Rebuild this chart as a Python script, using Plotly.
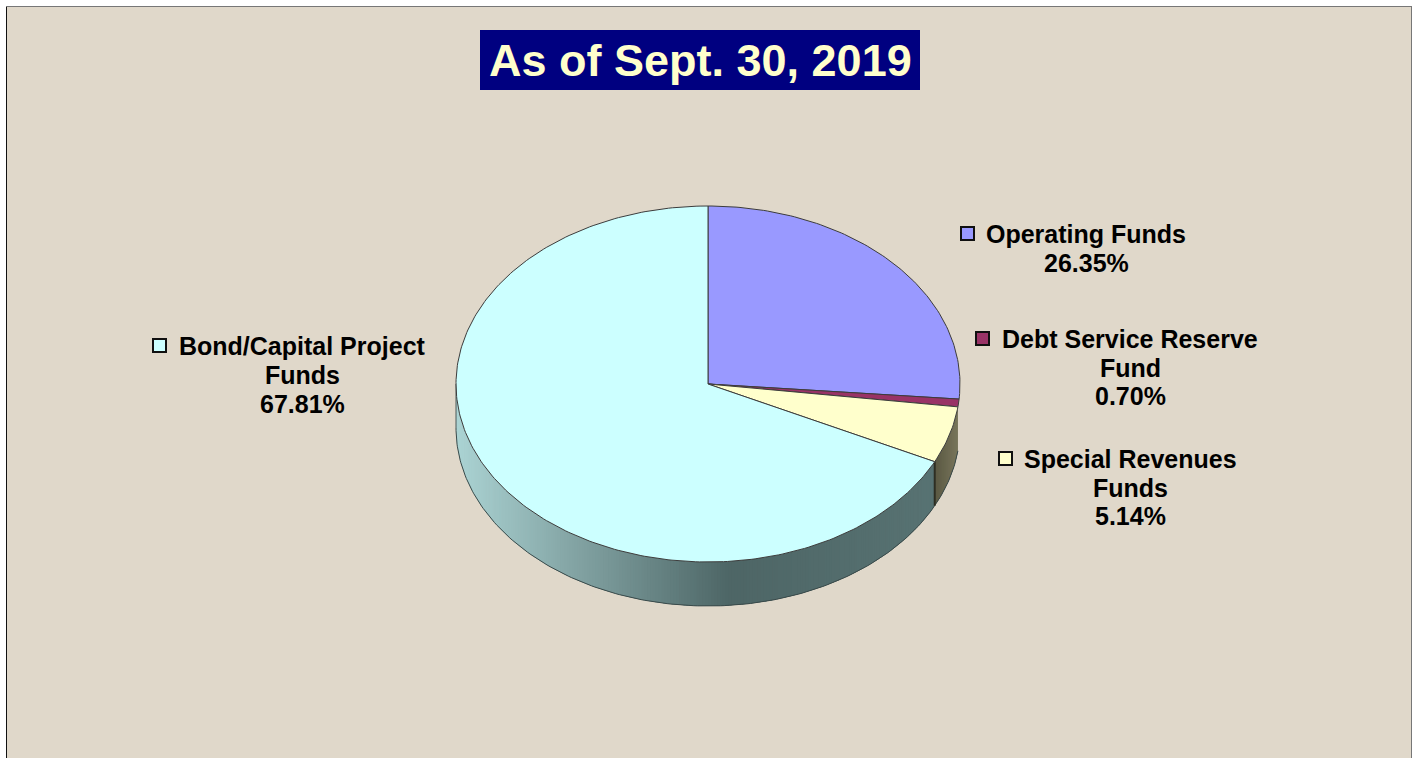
import numpy as np
import plotly.graph_objects as go

categories = ["Operating Funds", "Debt Service Reserve Fund", "Special Revenues Funds", "Bond/Capital Project Funds"]
shares = [26.35, 0.70, 5.14, 67.81]
label_lines = [["Operating Funds", "26.35%"],
               ["Debt Service Reserve", "Fund", "0.70%"],
               ["Special Revenues", "Funds", "5.14%"],
               ["Bond/Capital Project", "Funds", "67.81%"]]
top_colors = ["#9999FF", "#993366", "#FFFFCC", "#CCFFFF"]
side_light = [(100, 100, 170), (110, 40, 75), (125, 122, 95), (172, 212, 212)]
side_dark = [(90, 90, 150), (100, 35, 70), (92, 90, 68), (78, 102, 102)]
title_text = "As of Sept. 30, 2019"
label_pos = [(1086, 234, 29), (1130, 339, 28.5), (1130, 459, 28.5), (302, 346, 29)]
marker_pos = [(967.5, 233.5), (982.5, 338.5), (1005.5, 458.5), (159.5, 345.5)]

CX, CY, RX, RY, DEPTH = 708, 384, 252, 178, 44
BG = "#E0D8CA"


def pt(deg):
    a = np.radians(deg)
    return CX + RX * np.sin(a), CY - RY * np.cos(a)


fig = go.Figure()
fracs = np.cumsum([0] + shares) / sum(shares) * 360

# side wall: the reference only shows the wall of the two lower slices
for i in (2, 3):
    a0, a1 = fracs[i], fracs[i + 1]
    lo, hi = max(a0, 90), min(a1, 270)
    n = max(1, int(round((hi - lo) * 1.5)))
    edges = np.linspace(lo, hi, n + 1)
    for s in range(n):
        # each strip runs on under the next one so no seam shows between them
        ang = np.linspace(edges[s], min(edges[s + 1] + 1.0, hi), 3)
        xs, ys = pt(ang)
        xm = pt((edges[s] + edges[s + 1]) / 2)[0]
        if i == 3:
            t = min(1, max(0, (730 - xm) / (730 - 456)))
            base = np.array(side_dark[i]) + t * (np.array(side_light[i]) - np.array(side_dark[i]))
            if xm > 730:
                base = base + (xm - 730) / 205 * np.array([10, 13, 13])
        else:
            t = min(1, max(0, (xm - 936) / 25))
            base = np.array(side_dark[i]) + t * (np.array(side_light[i]) - np.array(side_dark[i]))
        col = "rgb(%d,%d,%d)" % tuple(base)
        fig.add_trace(go.Scatter(
            x=list(xs) + list(xs[::-1]), y=list(ys) + list((ys + DEPTH)[::-1]),
            mode="none", fill="toself", fillcolor=col,
            hoverinfo="skip", showlegend=False))

# side outline
ang = np.linspace(fracs[2], 270, 200)
xs, ys = pt(ang)
fig.add_trace(go.Scatter(x=xs, y=ys + DEPTH, mode="lines", line=dict(color="#3A4A4A", width=1),
                         hoverinfo="skip", showlegend=False))
fig.add_trace(go.Scatter(x=[xs[-1], xs[-1]], y=[ys[-1], ys[-1] + DEPTH], mode="lines",
                         line=dict(color="#4A5A5A", width=1), hoverinfo="skip", showlegend=False))
ex, ey = pt(fracs[3])
fig.add_trace(go.Scatter(x=[ex, ex], y=[ey, ey + DEPTH], mode="lines",
                         line=dict(color="#2E2E22", width=2), hoverinfo="skip", showlegend=False))

# top slices
for i, name in enumerate(categories):
    ang = np.linspace(fracs[i], fracs[i + 1], max(3, int(shares[i] * 4)))
    xs, ys = pt(ang)
    fig.add_trace(go.Scatter(
        x=[CX] + list(xs) + [CX], y=[CY] + list(ys) + [CY], mode="lines", fill="toself",
        fillcolor=top_colors[i], line=dict(color="#3C3C3C", width=1),
        name=name, hoverinfo="name", showlegend=False))

# legend keys
fig.add_trace(go.Scatter(
    x=[p[0] for p in marker_pos], y=[p[1] for p in marker_pos], mode="markers",
    marker=dict(symbol="square", size=13, color=top_colors, line=dict(color="#101010", width=2)),
    hoverinfo="skip", showlegend=False))

annotations = []
for lines, (x, y, step) in zip(label_lines, label_pos):
    for k, line in enumerate(lines):
        annotations.append(dict(x=x, y=y + k * step, xref="x", yref="y", text=line, showarrow=False,
                                xanchor="center", yanchor="middle",
                                font=dict(family="Liberation Sans", size=25, color="#000000", weight="bold")))
annotations.append(dict(x=700, y=60, xref="x", yref="y", text=title_text, showarrow=False,
                        xanchor="center", yanchor="middle",
                        font=dict(family="Liberation Sans", size=45, color="#FFFFCC", weight="bold")))

shapes = [
    dict(type="rect", x0=6, x1=1412, y0=6, y1=770, xref="x", yref="y", layer="below",
         fillcolor=BG, line=dict(width=0)),
    dict(type="line", x0=6.5, x1=6.5, y0=6, y1=758, xref="x", yref="y", layer="below", line=dict(color="#111111", width=1)),
    dict(type="line", x0=6, x1=1412, y0=6.5, y1=6.5, xref="x", yref="y", layer="below", line=dict(color="#777777", width=1)),
    dict(type="line", x0=1411.5, x1=1411.5, y0=6, y1=758, xref="x", yref="y", layer="below", line=dict(color="#777777", width=1)),
    dict(type="rect", x0=480, x1=920, y0=30, y1=90, xref="x", yref="y", layer="below",
         fillcolor="#000080", line=dict(width=0)),
]

fig.update_layout(
    width=1418, height=758, margin=dict(l=0, r=0, t=0, b=0),
    paper_bgcolor="#FFFFFF", plot_bgcolor="#FFFFFF", showlegend=False,
    xaxis=dict(range=[0, 1418], visible=False, fixedrange=True),
    yaxis=dict(range=[758, 0], visible=False, fixedrange=True),
    annotations=annotations, shapes=shapes,
)
fig.write_html("out.html", config={"displayModeBar": False},
               post_script="document.body.style.margin='0';document.body.style.overflow='hidden';")
